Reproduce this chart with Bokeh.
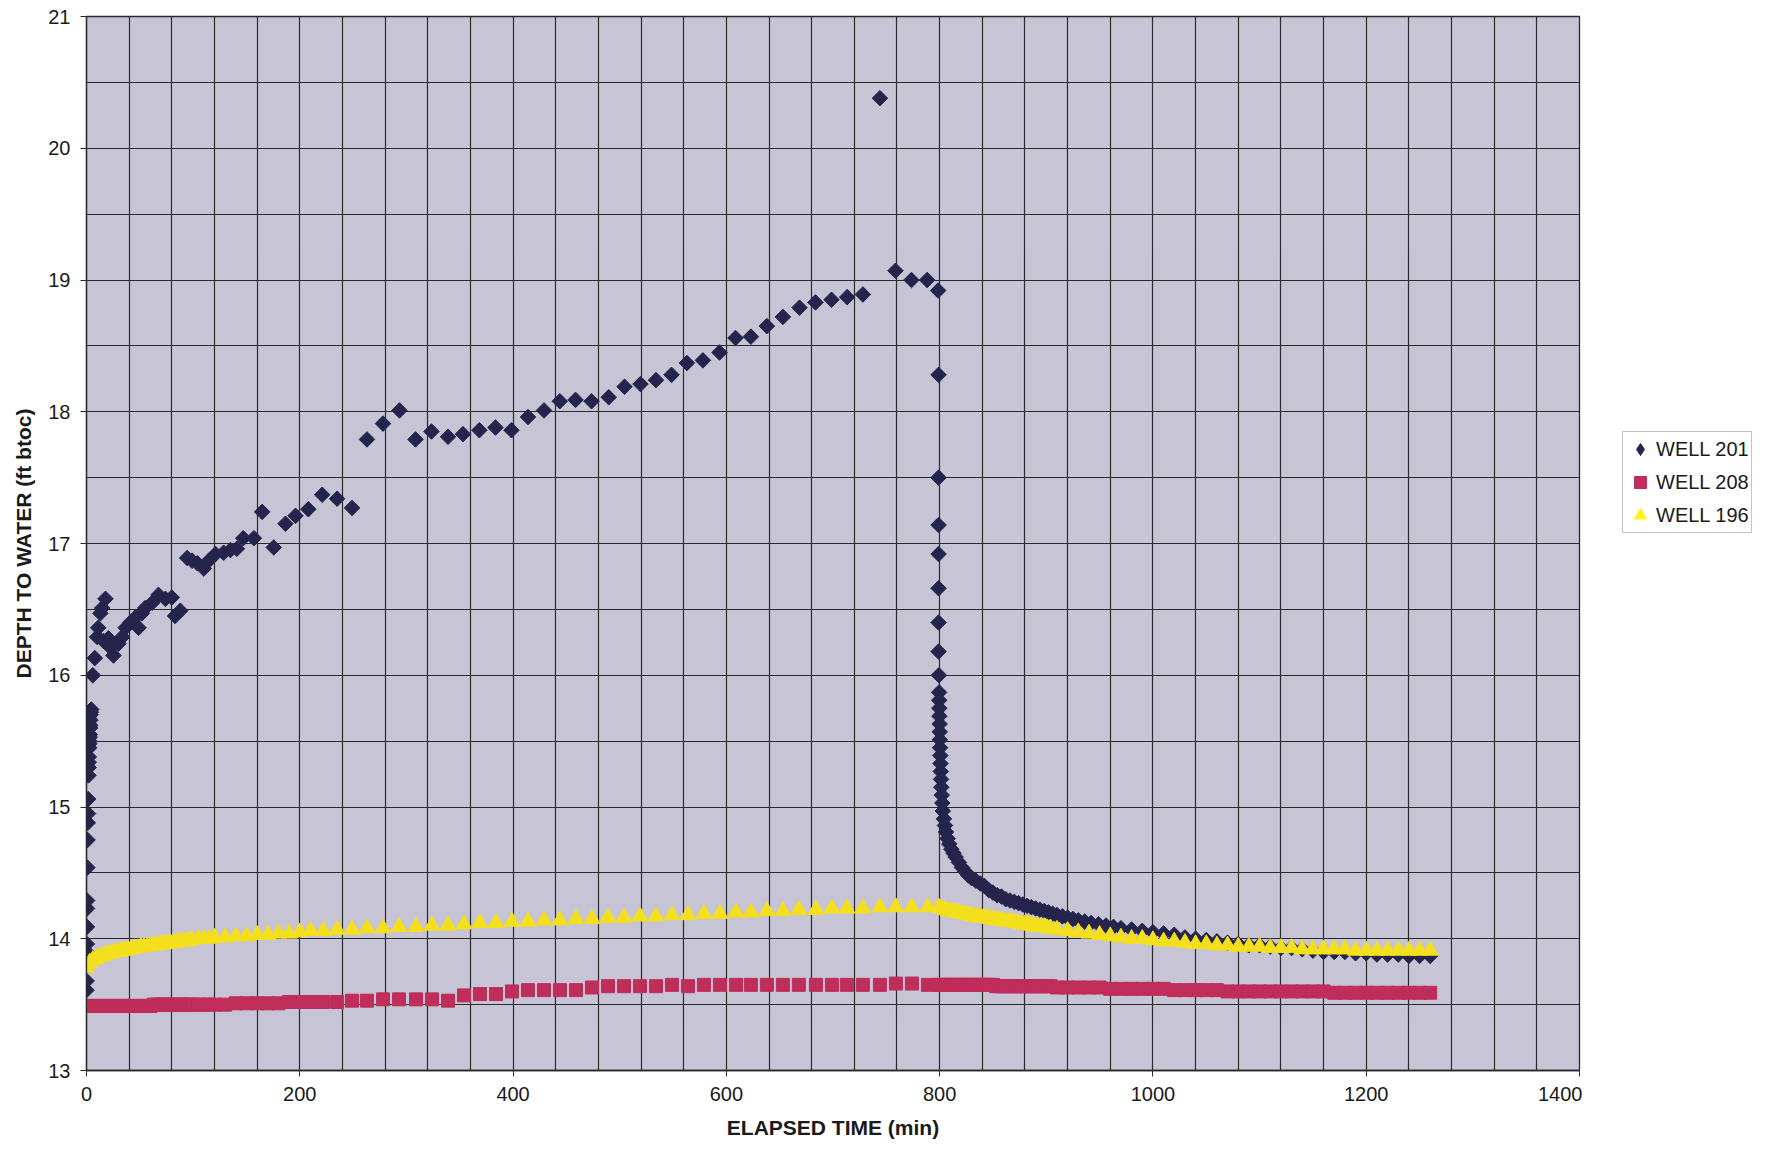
from bokeh.plotting import figure
from bokeh.layouts import row
from bokeh.models import Range1d, SingleIntervalTicker, Legend, LegendItem
from bokeh.embed import file_html
from bokeh.resources import INLINE

# ---------------- data ----------------
well_201_time = [
    0.0, 0.1, 0.2, 0.25, 0.3, 0.4, 0.5, 0.6, 0.8, 1.0, 1.2, 1.4, 1.6, 1.8, 2.0, 2.1, 2.2, 2.5, 2.6, 2.8,
    3.0, 3.1, 3.4, 3.5, 3.7, 3.9, 4.0, 4.5,
    5.9, 7.8, 10, 11, 13, 14.7, 16, 17.8, 20.6, 22.5, 25.3, 30, 33.5, 36.6, 41, 46, 48.8, 52, 55, 61.6,
    67.5, 74, 80, 83, 88,
    94.4, 99, 104, 110, 114.7, 121, 128.6, 135, 141, 147, 157, 164.7, 175.6, 186.6, 196, 208, 221, 235, 249,
    263, 278, 293.5, 308.5, 323.5, 339, 353, 368.4, 383.5, 398.5, 414, 429, 443.8, 458.6, 473.6, 489.7,
    504.5, 519.5, 534, 548.6, 563, 578, 593.6, 608.6, 623, 638, 653, 668.6, 683.6, 698.6, 713.3, 728,
    744, 758.6, 773.6, 788.3, 798.6,
    799, 799, 799, 799, 799, 799, 799, 799.3, 799.5, 799.6, 799.7, 799.8, 800, 800.1, 800.2, 800.4, 800.6,
    800.8, 801, 801.3, 801.6, 802, 802.5, 803, 804, 805, 806, 807.5, 809, 811, 813, 815, 818, 821, 824,
    827, 830, 834, 838, 842, 846, 850, 854, 858, 862, 866, 870, 874, 878, 882, 886, 890, 894, 898, 902,
    906, 910, 915, 920, 925, 930, 936, 942, 949, 956, 963, 970, 980, 990, 1000, 1010, 1020, 1030, 1040,
    1050, 1060, 1070, 1080, 1090, 1100, 1110, 1120, 1130, 1140, 1150, 1160, 1170, 1180, 1190, 1200, 1210,
    1220, 1230, 1240, 1250, 1260,
]
well_201_depth = [
    13.61, 13.68, 13.90, 13.85, 13.96, 14.09, 14.23, 14.29, 14.54, 14.75, 14.88, 14.95, 15.06, 15.24, 15.30,
    15.34, 15.38, 15.45, 15.48, 15.50, 15.53, 15.55, 15.60, 15.62, 15.66, 15.70, 15.72, 15.74,
    16.00, 16.13, 16.29, 16.36, 16.47, 16.51, 16.26, 16.58, 16.28, 16.21, 16.15, 16.24, 16.29, 16.36, 16.40,
    16.44, 16.36, 16.47, 16.51, 16.55, 16.61, 16.58, 16.59, 16.45, 16.49,
    16.89, 16.87, 16.85, 16.81, 16.87, 16.92, 16.93, 16.95, 16.96, 17.04, 17.04, 17.24, 16.97, 17.15, 17.21,
    17.26, 17.37, 17.34, 17.27,
    17.79, 17.91, 18.01, 17.79, 17.85, 17.81, 17.83, 17.86, 17.88, 17.86, 17.96, 18.01, 18.08, 18.09, 18.08,
    18.11, 18.19, 18.21, 18.24, 18.28, 18.37, 18.39, 18.45, 18.56, 18.57, 18.65, 18.72, 18.79, 18.83, 18.85,
    18.87, 18.89, 20.38, 19.07, 19.00, 19.00, 18.92,
    18.28, 17.50, 17.14, 16.92, 16.66, 16.40, 16.18, 16.00, 15.87, 15.81, 15.75, 15.69, 15.63, 15.57, 15.51,
    15.45, 15.39, 15.33, 15.27, 15.21, 15.15, 15.09, 15.03, 14.97, 14.91, 14.86, 14.81, 14.76, 14.72, 14.68,
    14.65, 14.62, 14.58, 14.54, 14.51, 14.48, 14.46, 14.44, 14.42, 14.40, 14.37, 14.35, 14.33, 14.32, 14.30,
    14.29, 14.28, 14.27, 14.26, 14.25, 14.24, 14.23, 14.22, 14.21, 14.20, 14.19, 14.18, 14.17, 14.16, 14.15,
    14.14, 14.13, 14.12, 14.11, 14.10, 14.09, 14.08, 14.07, 14.06, 14.05, 14.04, 14.03, 14.01, 14.00, 13.99,
    13.98, 13.97, 13.96, 13.95, 13.95, 13.94, 13.93, 13.93, 13.92, 13.91, 13.90, 13.90, 13.90, 13.89, 13.89,
    13.88, 13.88, 13.88, 13.87, 13.87, 13.87,
]

obs_time = [
    0, 3, 6, 9, 12, 15, 18, 21, 24, 27, 30, 33, 36, 39, 42, 45, 48, 51, 54, 57, 60, 63, 66, 69, 72, 75, 78,
    81, 84, 87, 90, 93, 96, 99,
    105, 110, 115, 120, 130, 140, 150, 160, 170, 180, 190, 200,
    210, 222, 235, 249, 263, 278, 293, 309, 324, 339, 354, 369, 384, 399, 414, 429, 444, 459, 474, 489,
    504, 519, 534, 549, 564, 579, 594, 609, 623, 638, 653, 668, 684, 699, 713, 728, 744, 759, 774, 789,
    799, 802, 805, 808, 811, 814, 817, 820, 823, 826, 829, 832, 835, 838, 841, 844, 847, 850, 853, 856,
    859, 862, 865, 868, 871, 874, 877, 880, 883, 886, 889, 892, 895, 898, 901, 904,
    910, 920, 930, 940, 950, 960, 970, 980, 990, 1000, 1010, 1020, 1030, 1040, 1050, 1060, 1070, 1080,
    1090, 1100, 1110, 1120, 1130, 1140, 1150, 1160, 1170, 1180, 1190, 1200, 1210, 1220, 1230, 1240, 1250, 1260,
]
well_196_depth = [
    13.78, 13.82, 13.84, 13.85, 13.86, 13.87, 13.88, 13.89, 13.89, 13.90, 13.90, 13.91, 13.91, 13.92, 13.92,
    13.93, 13.93, 13.94, 13.94, 13.94, 13.95, 13.95, 13.95, 13.96, 13.96, 13.96, 13.97, 13.97, 13.97, 13.98,
    13.98, 13.98, 13.99, 13.99,
    14.00, 14.00, 14.00, 14.01, 14.01, 14.02, 14.02, 14.03, 14.03, 14.04, 14.04, 14.05,
    14.06, 14.06, 14.07, 14.07, 14.08, 14.08, 14.09, 14.09, 14.10, 14.10, 14.11, 14.12, 14.12, 14.13, 14.13,
    14.14, 14.14, 14.15, 14.15, 14.16, 14.16, 14.17, 14.17, 14.18, 14.18, 14.19, 14.19, 14.20, 14.20, 14.21,
    14.21, 14.22, 14.22, 14.23, 14.23, 14.23, 14.24, 14.24, 14.24, 14.24,
    14.24, 14.23, 14.22, 14.21, 14.21, 14.20, 14.20, 14.19, 14.19, 14.18, 14.18, 14.17, 14.17, 14.16, 14.16,
    14.16, 14.15, 14.15, 14.14, 14.14, 14.14, 14.13, 14.13, 14.13, 14.12, 14.12, 14.11, 14.11, 14.11, 14.10,
    14.10, 14.09, 14.09, 14.09, 14.08, 14.08,
    14.07, 14.06, 14.05, 14.04, 14.03, 14.02, 14.01, 14.00, 14.00, 13.99, 13.98, 13.98, 13.97, 13.96, 13.96,
    13.95, 13.95, 13.94, 13.94, 13.94, 13.93, 13.93, 13.93, 13.92, 13.92, 13.92, 13.92, 13.92, 13.91, 13.91,
    13.91, 13.91, 13.91, 13.91, 13.91, 13.91,
]
well_208_depth = [
    13.49, 13.49, 13.49, 13.49, 13.49, 13.49, 13.49, 13.49, 13.49, 13.49, 13.49, 13.49, 13.49, 13.49, 13.49,
    13.49, 13.49, 13.49, 13.49, 13.49, 13.49, 13.50, 13.50, 13.50, 13.50, 13.50, 13.50, 13.50, 13.50, 13.50,
    13.50, 13.50, 13.50, 13.50,
    13.50, 13.50, 13.50, 13.50, 13.50, 13.51, 13.51, 13.51, 13.51, 13.51, 13.52, 13.52,
    13.52, 13.52, 13.52, 13.53, 13.53, 13.54, 13.54, 13.54, 13.54, 13.53, 13.57, 13.58, 13.58, 13.60, 13.61,
    13.61, 13.61, 13.61, 13.63, 13.64, 13.64, 13.64, 13.64, 13.65, 13.64, 13.65, 13.65, 13.65, 13.65, 13.65,
    13.65, 13.65, 13.65, 13.65, 13.65, 13.65, 13.65, 13.66, 13.66, 13.65,
    13.65, 13.65, 13.65, 13.65, 13.65, 13.65, 13.65, 13.65, 13.65, 13.65, 13.65, 13.65, 13.65, 13.65, 13.65,
    13.65, 13.65, 13.65, 13.64, 13.64, 13.64, 13.64, 13.64, 13.64, 13.64, 13.64, 13.64, 13.64, 13.64, 13.64,
    13.64, 13.64, 13.64, 13.64, 13.64, 13.64,
    13.63, 13.63, 13.63, 13.63, 13.63, 13.62, 13.62, 13.62, 13.62, 13.62, 13.62, 13.61, 13.61, 13.61, 13.61,
    13.61, 13.60, 13.60, 13.60, 13.60, 13.60, 13.60, 13.60, 13.60, 13.60, 13.60, 13.59, 13.59, 13.59, 13.59,
    13.59, 13.59, 13.59, 13.59, 13.59, 13.59,
]

series_names = ["WELL 201", "WELL 208", "WELL 196"]
x_ticks_interval = 200
y_ticks_interval = 1

# ---------------- main figure ----------------
FONT = "Liberation Sans"
C201, C208, C196 = "#24244C", "#BF2D5B", "#F3DF1C"

p = figure(width=1582, height=1150, output_backend="svg", toolbar_location=None,
           x_range=Range1d(0, 1400), y_range=Range1d(13, 21),
           min_border_left=86, min_border_right=3, min_border_top=16, min_border_bottom=80)

p.background_fill_color = "#C7C5D5"
p.border_fill_color = "white"
p.outline_line_color = "#2a2a2a"
p.outline_line_width = 1.3

p.xgrid.ticker = SingleIntervalTicker(interval=40)
p.ygrid.ticker = SingleIntervalTicker(interval=0.5)
for g in (p.xgrid, p.ygrid):
    g.grid_line_color = "#2a2a2a"
    g.grid_line_width = 1.2
    g.grid_line_alpha = 1.0

p.xaxis.ticker = SingleIntervalTicker(interval=x_ticks_interval, num_minor_ticks=0)
p.yaxis.ticker = SingleIntervalTicker(interval=y_ticks_interval, num_minor_ticks=0)
for ax in (p.xaxis, p.yaxis):
    ax.axis_line_color = "#2a2a2a"
    ax.axis_line_width = 1.3
    ax.major_tick_line_color = "#2a2a2a"
    ax.major_tick_out = 6
    ax.major_tick_in = 0
    ax.minor_tick_line_color = None
    ax.major_label_text_font = FONT
    ax.major_label_text_font_size = "20px"
    ax.major_label_text_color = "#1a1a1a"
    ax.axis_label_text_font = FONT
    ax.axis_label_text_font_size = "21px"
    ax.axis_label_text_font_style = "bold"
    ax.axis_label_text_color = "#1a1a1a"

p.xaxis.axis_label = "ELAPSED TIME (min)"
p.yaxis.axis_label = "DEPTH TO WATER (ft btoc)"
p.xaxis.major_label_standoff = 10
p.yaxis.major_label_standoff = 10
p.xaxis.axis_label_standoff = 12
p.yaxis.axis_label_standoff = 10

p.scatter(well_201_time, well_201_depth, marker="square", angle=0.7854, size=11,
          fill_color=C201, line_color=C201)
p.scatter(obs_time, well_208_depth, marker="square", size=13,
          fill_color=C208, line_color=C208)
p.scatter(obs_time, well_196_depth, marker="triangle", size=16,
          fill_color=C196, line_color=C196)

# ---------------- legend panel (right of the chart) ----------------
# The same series are attached here only to supply the legend swatches;
# this panel's ranges lie outside the data so nothing is drawn in it.
lp = figure(width=184, height=1150, output_backend="svg", toolbar_location=None,
            x_range=Range1d(-20, -10), y_range=Range1d(0, 1),
            x_axis_location=None, y_axis_location=None, min_border=0)
lp.grid.visible = False
lp.outline_line_color = None
lp.background_fill_color = "white"
lp.border_fill_color = "white"

g201 = lp.scatter(well_201_time, well_201_depth, marker="diamond",
                  fill_color=C201, line_color=C201)
g208 = lp.scatter(obs_time, well_208_depth, marker="square", fill_color=C208, line_color=C208)
g196 = lp.scatter(obs_time, well_196_depth, marker="triangle", fill_color="#FFF21A", line_color="#FFF21A")

legend = Legend(items=[LegendItem(label=series_names[0], renderers=[g201]),
                       LegendItem(label=series_names[1], renderers=[g208]),
                       LegendItem(label=series_names[2], renderers=[g196])],
                location=(40, 537))
legend.label_text_font = FONT
legend.label_text_font_size = "20px"
legend.label_text_color = "#1a1a1a"
legend.border_line_color = "#8a8a8a"
legend.border_line_width = 1
legend.background_fill_color = "white"
legend.background_fill_alpha = 1.0
legend.padding = 2
legend.spacing = 3
legend.glyph_width = 30
legend.glyph_height = 30
legend.label_height = 30
legend.label_standoff = 1
legend.margin = 0
lp.add_layout(legend, "center")

layout = row(p, lp, spacing=0)
open("out.html", "w").write(file_html(layout, INLINE))
